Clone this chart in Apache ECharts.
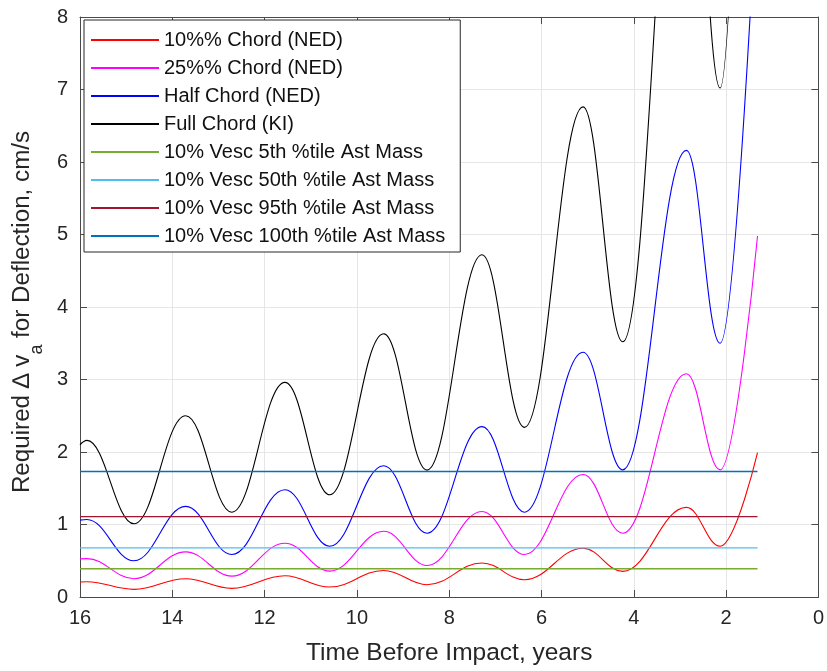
<!DOCTYPE html>
<html>
<head>
<meta charset="utf-8">
<script src="https://cdn.jsdelivr.net/npm/echarts@6/dist/echarts.min.js"></script>
<style>
  html, body { margin: 0; padding: 0; background: #fff; }
  #chart { width: 827px; height: 671px; }
</style>
</head>
<body>
<div id="chart"></div>
<script>
// Time before impact (years): start, alternating peaks / troughs, end of run
const years = [16.00, 15.85, 14.83, 13.71, 12.71, 11.56, 10.59, 9.42,
               8.48, 7.29, 6.37, 5.10, 4.24, 2.86, 2.13, 1.32];

// Required delta-v (cm/s) for each deflection target at those times
const chord10 = [0.206, 0.21, 0.105, 0.252, 0.119, 0.293, 0.137, 0.366,
                 0.169, 0.47, 0.238, 0.673, 0.353, 1.236, 0.70, 1.99];
const chord25 = [0.526, 0.53, 0.252, 0.623, 0.288, 0.742, 0.357, 0.907,
                 0.435, 1.18, 0.586, 1.69, 0.88, 3.08, 1.754, 4.98];
const chordHalf = [1.06, 1.07, 0.50, 1.25, 0.586, 1.48, 0.70, 1.81,
                   0.88, 2.35, 1.17, 3.375, 1.754, 6.16, 3.50, 9.95];
const chordFull = [2.10, 2.16, 1.01, 2.50, 1.17, 2.96, 1.41, 3.63,
                   1.75, 4.72, 2.34, 6.76, 3.52, 12.3, 7.02, 19.9];

// 10% of escape velocity for several asteroid-mass percentiles (cm/s)
const vescLevels = [0.39, 0.677, 1.108, 1.731];
const vescSpan = [16, 1.32];

const curveNames = ['10%% Chord (NED)', '25%% Chord (NED)', 'Half Chord (NED)', 'Full Chord (KI)'];
const vescNames = ['10% Vesc 5th %tile Ast Mass', '10% Vesc 50th %tile Ast Mass',
                   '10% Vesc 95th %tile Ast Mass', '10% Vesc 100th %tile Ast Mass'];
const xTicks = { min: 0, max: 16, interval: 2 };
const yTicks = { min: 0, max: 8, interval: 1 };

const curveColors = ['#ff0000', '#ff00ff', '#0000ff', '#000000'];
const vescColors = ['#77ac30', '#4dbeee', '#a2142f', '#0072bd'];

const FONT = '"Liberation Sans", Arial, Helvetica, sans-serif';
const AXIS_COLOR = '#4a4a4a';
const TEXT_COLOR = '#262626';

// Curves pass through each peak and trough with a flat tangent
const curveSeries = [chord10, chord25, chordHalf, chordFull].map((vals, i) => ({
  name: curveNames[i],
  type: 'line',
  data: years.map((x, k) => [x, vals[k]]),
  smooth: 0.4,
  smoothMonotone: 'x',
  symbol: 'none',
  clip: true,
  color: curveColors[i],
  lineStyle: { width: 1.1, color: curveColors[i] }
}));

const vescSeries = vescLevels.map((v, i) => ({
  name: vescNames[i],
  type: 'line',
  data: vescSpan.map(x => [x, v]),
  symbol: 'none',
  color: vescColors[i],
  lineStyle: { width: 1.3, color: vescColors[i] }
}));

function boxAxis(ticks, position, extra) {
  return Object.assign({
    type: 'value',
    min: ticks.min, max: ticks.max, interval: ticks.interval,
    position: position,
    axisLine: { show: true, onZero: false, lineStyle: { color: AXIS_COLOR, width: 1 } },
    axisTick: { show: true, inside: true, length: 7, lineStyle: { color: AXIS_COLOR } },
    axisLabel: { show: false },
    splitLine: { show: false }
  }, extra);
}

const chart = echarts.init(document.getElementById('chart'), null, { renderer: 'canvas' });
chart.setOption({
  animation: false,
  backgroundColor: '#ffffff',
  textStyle: { fontFamily: FONT },
  grid: { left: 80, right: 6, top: 17, bottom: 71, containLabel: false },
  xAxis: [
    boxAxis(xTicks, 'bottom', {
      inverse: true,
      axisLabel: { show: true, fontSize: 20, color: TEXT_COLOR, margin: 11, fontFamily: FONT },
      splitLine: { show: true, lineStyle: { color: '#e6e6e6', width: 1 } },
      name: 'Time Before Impact, years',
      nameLocation: 'middle',
      nameGap: 44,
      nameTextStyle: { fontSize: 24.5, color: TEXT_COLOR, fontFamily: FONT }
    }),
    boxAxis(xTicks, 'top', { inverse: true })
  ],
  yAxis: [
    boxAxis(yTicks, 'left', {
      axisLabel: { show: true, fontSize: 20, color: TEXT_COLOR, margin: 12, fontFamily: FONT },
      splitLine: { show: true, lineStyle: { color: '#e6e6e6', width: 1 } },
      name: '{n|Required \u2206 v}{s|a}{n| for Deflection, cm/s}',
      nameLocation: 'middle',
      nameGap: 32,
      nameTextStyle: {
        color: TEXT_COLOR,
        fontFamily: FONT,
        padding: [0, 10, 0, 0],
        rich: {
          n: { fontSize: 24.2, color: TEXT_COLOR, fontFamily: FONT, verticalAlign: 'top' },
          s: { fontSize: 18, color: TEXT_COLOR, fontFamily: FONT, verticalAlign: 'top', padding: [18, 0, 0, 0] }
        }
      }
    }),
    boxAxis(yTicks, 'right', {})
  ],
  legend: {
    orient: 'vertical',
    left: 84,
    top: 20,
    padding: [10, 15, 6, 7],
    itemGap: 8,
    itemWidth: 68,
    itemHeight: 2,
    icon: 'rect',
    selectedMode: false,
    backgroundColor: '#ffffff',
    borderColor: '#262626',
    borderWidth: 1,
    textStyle: { fontSize: 20, lineHeight: 20, color: '#111111', fontFamily: FONT },
    data: curveNames.concat(vescNames)
  },
  series: curveSeries.concat(vescSeries)
});
</script>
</body>
</html>
